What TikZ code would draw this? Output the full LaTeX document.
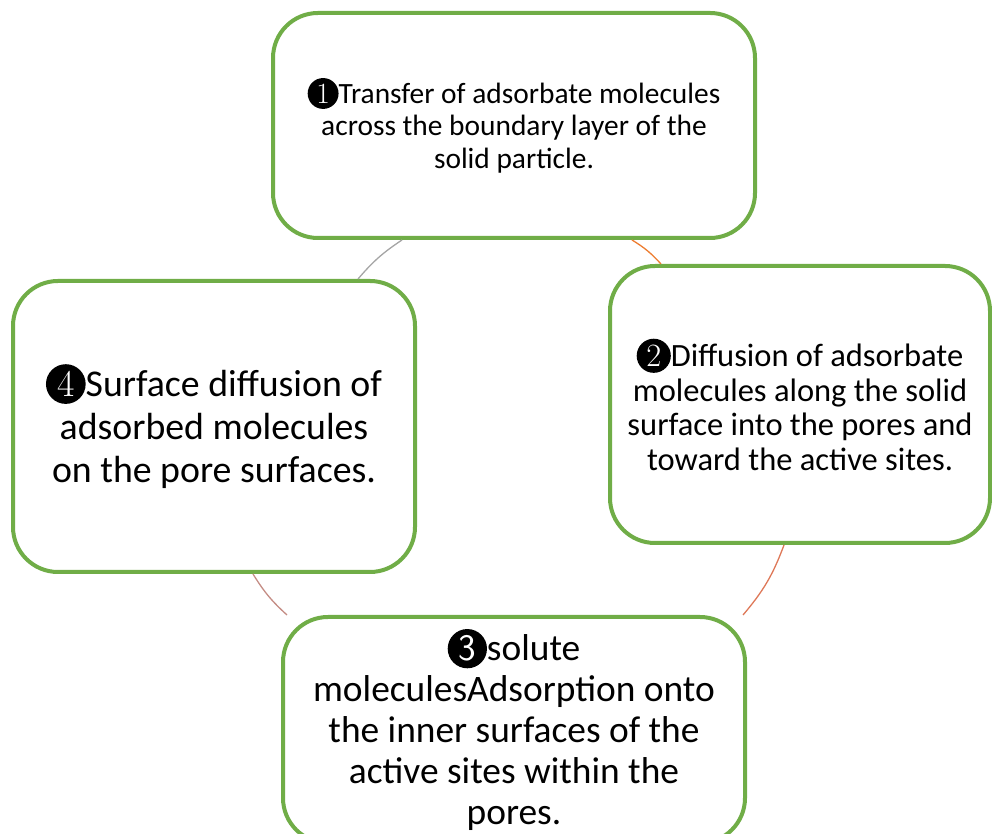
\documentclass[tikz,border=0pt]{standalone}
\usepackage{fontspec}
\setmainfont{Carlito}
\newfontfamily\numfont{Latin Modern Roman}
\definecolor{boxgreen}{RGB}{112,173,71}
\definecolor{linkgray}{RGB}{165,165,165}
\definecolor{linkorange}{RGB}{237,125,49}
\definecolor{linkrust}{RGB}{222,120,88}
\definecolor{linkrose}{RGB}{196,140,132}
\newcommand{\stepnum}[2][\numfont]{\tikz[baseline=(n.base)]\node[circle, fill=black, text=white, inner sep=0pt, minimum size=1.05em, font=#1] (n) {#2};}
\begin{document}
\begin{tikzpicture}[x=1pt, y=1pt,
  stepbox/.style={draw=boxgreen, line width=4pt, rounded corners=45pt, fill=white, align=center, inner sep=0pt},
  link/.style={line width=1.3pt}]
\clip (0,0) rectangle (992,834);
\useasboundingbox (0,0) rectangle (992,834);
\node[stepbox, minimum width=482, minimum height=225, font=\fontsize{29.4}{32.5}\selectfont] (transfer) at (514,708.5)
  {\stepnum{1}Transfer of adsorbate molecules\\across the boundary layer of the\\solid particle.};
\node[stepbox, minimum width=380, minimum height=277, font=\fontsize{32.5}{34.5}\selectfont] (diffusion) at (800,429.5)
  {\stepnum{2}Diffusion of adsorbate\\molecules along the solid\\surface into the pores and\\toward the active sites.};
\node[stepbox, minimum width=462, minimum height=226, font=\fontsize{37.4}{41}\selectfont] (adsorption) at (514,104)
  {\stepnum[\sffamily]{3}solute\\moleculesAdsorption onto\\the inner surfaces of the\\active sites within the\\pores.};
\node[stepbox, minimum width=402, minimum height=291, font=\fontsize{37.8}{43}\selectfont] (surface) at (214,407.5)
  {\stepnum{4}Surface diffusion of\\adsorbed molecules\\on the pore surfaces.};

\draw[link, linkorange] ([xshift=118pt]transfer.south) to[bend left=8] ([xshift=-139pt]diffusion.north);
\draw[link, linkrust] ([xshift=-16pt]diffusion.south) to[bend left=10] ([xshift=229pt]adsorption.north);
\draw[link, linkrose] ([xshift=-227pt]adsorption.north) to[bend left=8] ([xshift=39pt]surface.south);
\draw[link, linkgray] ([xshift=144pt]surface.north) to[bend left=8] ([xshift=-112pt]transfer.south);
\end{tikzpicture}
\end{document}
